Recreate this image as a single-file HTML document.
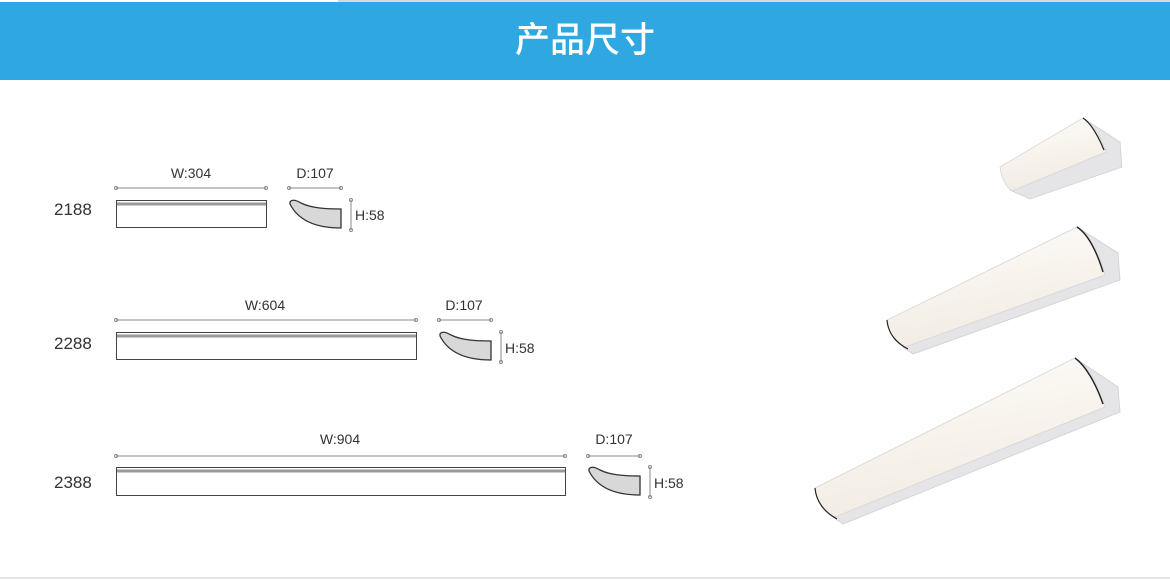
<!DOCTYPE html>
<html><head><meta charset="utf-8"><style>
body{margin:0;width:1170px;height:580px;background:#fff;overflow:hidden;font-family:"Liberation Sans","Noto Sans CJK SC",sans-serif}
</style></head><body>
<svg width="1170" height="580" viewBox="0 0 1170 580" xmlns="http://www.w3.org/2000/svg" style="display:block">
<defs>
<linearGradient id="lg" x1="0" y1="0" x2="0.3" y2="1">
<stop offset="0" stop-color="#fdfdfc"/><stop offset="0.55" stop-color="#f8f3ec"/><stop offset="1" stop-color="#f1ebe4"/></linearGradient>
<g id="prof"><path d="M1,2 C3,-1 7,0 12,3 C22,8 36,9 52,9 L52,28 C30,28 10,22 1,4 Z" fill="#d8d8d8" stroke="#333" stroke-width="1.3"/></g>
</defs>
<rect x="338" y="0" width="832" height="2" fill="#d9d9d9"/>
<rect x="0" y="2" width="1170" height="78" fill="#2fa7e0"/>
<text x="585" y="52" text-anchor="middle" font-size="35" fill="#fff" font-family="'Noto Sans CJK SC',sans-serif" font-weight="500">产品尺寸</text>
<rect x="0" y="577" width="1170" height="2" fill="#e4e4e4"/>
<g font-size="14" fill="#333">
<text x="54" y="215" font-size="17">2188</text>
<text x="191" y="178" text-anchor="middle">W:304</text>
<line x1="116" y1="188" x2="266" y2="188" stroke="#888"/>
<circle cx="116" cy="188" r="1.5" fill="none" stroke="#888"/><circle cx="266" cy="188" r="1.5" fill="none" stroke="#888"/>
<rect x="116.5" y="200.5" width="150" height="27" fill="#fff" stroke="#444"/>
<line x1="117" y1="204" x2="266" y2="204" stroke="#999" stroke-width="3"/>
<text x="315" y="178" text-anchor="middle">D:107</text>
<line x1="289" y1="188" x2="341" y2="188" stroke="#888"/>
<circle cx="289" cy="188" r="1.5" fill="none" stroke="#888"/><circle cx="341" cy="188" r="1.5" fill="none" stroke="#888"/>
<use href="#prof" x="289" y="200"/>
<line x1="351" y1="200" x2="351" y2="230" stroke="#888"/>
<circle cx="351" cy="200" r="1.5" fill="none" stroke="#888"/><circle cx="351" cy="230" r="1.5" fill="none" stroke="#888"/>
<text x="355" y="220">H:58</text>
<text x="54" y="349" font-size="17">2288</text>
<text x="265" y="310" text-anchor="middle">W:604</text>
<line x1="116" y1="320" x2="416" y2="320" stroke="#888"/>
<circle cx="116" cy="320" r="1.5" fill="none" stroke="#888"/><circle cx="416" cy="320" r="1.5" fill="none" stroke="#888"/>
<rect x="116.5" y="332.5" width="300" height="27" fill="#fff" stroke="#444"/>
<line x1="117" y1="336" x2="416" y2="336" stroke="#999" stroke-width="3"/>
<text x="464" y="310" text-anchor="middle">D:107</text>
<line x1="439" y1="320" x2="491" y2="320" stroke="#888"/>
<circle cx="439" cy="320" r="1.5" fill="none" stroke="#888"/><circle cx="491" cy="320" r="1.5" fill="none" stroke="#888"/>
<use href="#prof" x="439" y="332"/>
<line x1="501" y1="332" x2="501" y2="362" stroke="#888"/>
<circle cx="501" cy="332" r="1.5" fill="none" stroke="#888"/><circle cx="501" cy="362" r="1.5" fill="none" stroke="#888"/>
<text x="505" y="353">H:58</text>
<text x="54" y="488" font-size="17">2388</text>
<text x="340" y="444" text-anchor="middle">W:904</text>
<line x1="116" y1="456" x2="565" y2="456" stroke="#888"/>
<circle cx="116" cy="456" r="1.5" fill="none" stroke="#888"/><circle cx="565" cy="456" r="1.5" fill="none" stroke="#888"/>
<rect x="116.5" y="467.5" width="449" height="28" fill="#fff" stroke="#444"/>
<line x1="117" y1="471" x2="565" y2="471" stroke="#999" stroke-width="3"/>
<text x="614" y="444" text-anchor="middle">D:107</text>
<line x1="588" y1="456" x2="640" y2="456" stroke="#888"/>
<circle cx="588" cy="456" r="1.5" fill="none" stroke="#888"/><circle cx="640" cy="456" r="1.5" fill="none" stroke="#888"/>
<use href="#prof" x="588" y="467"/>
<line x1="650" y1="467" x2="650" y2="497" stroke="#888"/>
<circle cx="650" cy="467" r="1.5" fill="none" stroke="#888"/><circle cx="650" cy="497" r="1.5" fill="none" stroke="#888"/>
<text x="654" y="488">H:58</text>
</g>
<!-- small lamp -->
<path d="M1083,118 L1120,142 L1122,167 L1030,199 L1010,190 L1106,150 Z" fill="#e5e5e8" stroke="#d0d0d4" stroke-width="0.8"/>
<path d="M1000,167 L1083,118 C1094,124 1101,138 1106,152 L1012,191 C1005,186 1001,176 1000,167 Z" fill="url(#lg)" stroke="#d6d6d6" stroke-width="0.8"/>
<path d="M1083,118 C1092,124 1099,138 1104,150" stroke="#222" stroke-width="1.2" fill="none"/>
<!-- medium lamp -->
<path d="M1077,227 L1118,253 L1120,280 L913,354 L903,347 L1104,275 Z" fill="#e5e5e8" stroke="#d0d0d4" stroke-width="0.8"/>
<path d="M887,320 L1077,227 C1090,234 1099,255 1105,275 L905,347 C894,342 888,332 887,320 Z" fill="url(#lg)" stroke="#d6d6d6" stroke-width="0.8"/>
<path d="M1077,227 C1088,234 1097,252 1103,272" stroke="#222" stroke-width="1.4" fill="none"/>
<path d="M887,320 C888,333 896,343 908,349" stroke="#222" stroke-width="1.2" fill="none"/>
<!-- large lamp -->
<path d="M1075,358 L1118,387 L1120,412 L843,524 L833,517 L1104,407 Z" fill="#e5e5e8" stroke="#d0d0d4" stroke-width="0.8"/>
<path d="M815,488 L1075,358 C1088,365 1098,387 1105,407 L835,517 C823,512 816,500 815,488 Z" fill="url(#lg)" stroke="#d6d6d6" stroke-width="0.8"/>
<path d="M1075,358 C1086,366 1096,384 1103,404" stroke="#222" stroke-width="1.4" fill="none"/>
<path d="M815,488 C816,501 824,512 837,519" stroke="#222" stroke-width="1.2" fill="none"/>
</svg>
</body></html>
